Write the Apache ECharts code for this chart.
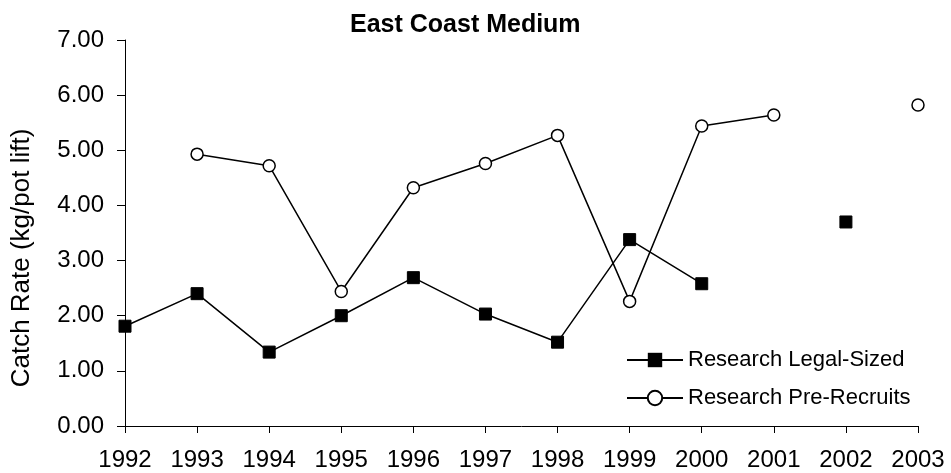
<!DOCTYPE html>
<html>
<head>
<meta charset="utf-8">
<script src="https://cdn.jsdelivr.net/npm/echarts@6/dist/echarts.min.js"></script>
<style>
html,body{margin:0;padding:0;background:#fff;}
#chart{width:951px;height:473px;}
</style>
</head>
<body>
<div id="chart"></div>
<script>
var years = [1992,1993,1994,1995,1996,1997,1998,1999,2000,2001,2002,2003];
var legalSized = [1.81,2.40,1.34,2.00,2.69,2.03,1.52,3.38,2.58,null,3.70,null];
var preRecruits = [null,4.93,4.72,2.44,4.32,4.76,5.27,2.26,5.44,5.64,null,5.82];
var yTicks = [0,1,2,3,4,5,6,7];

function pairs(vals){ return years.map(function(y,i){ return [y, vals[i]]; }); }

var FONT = '"Liberation Sans", Arial, sans-serif';
var chart = echarts.init(document.getElementById('chart'), null, {renderer:'canvas'});
chart.setOption({
  animation:false,
  backgroundColor:'#fff',
  title:{
    text:'East Coast Medium',
    left:345, top:8,
    textStyle:{fontFamily:FONT, fontWeight:'bold', fontSize:25, color:'#000'}
  },
  legend:{
    orient:'vertical', left:621, top:344,
    itemWidth:56, itemHeight:18, itemGap:16,
    textStyle:{fontFamily:FONT, fontSize:22, color:'#000'},
    data:['Research Legal-Sized','Research Pre-Recruits']
  },
  grid:{left:125, right:33, top:40, bottom:47},
  xAxis:{
    type:'value', min:years[0], max:years[years.length-1], interval:1,
    axisLine:{lineStyle:{color:'#000', width:1}},
    axisTick:{show:true, length:7, lineStyle:{color:'#000'}},
    splitLine:{show:false},
    axisLabel:{fontFamily:FONT, fontSize:24, color:'#000', margin:22,
      formatter:function(v){return String(v);}}
  },
  yAxis:{
    type:'value', min:yTicks[0], max:yTicks[yTicks.length-1], interval:1,
    name:'Catch Rate (kg/pot lift)', nameLocation:'middle', nameGap:90, nameRotate:90,
    nameTextStyle:{fontFamily:FONT, fontSize:26, color:'#000', padding:[0,50,0,0]},
    axisLine:{show:true, lineStyle:{color:'#000', width:1}},
    axisTick:{show:true, length:8, lineStyle:{color:'#000'}},
    splitLine:{show:false},
    axisLabel:{fontFamily:FONT, fontSize:24, color:'#000', margin:21,
      formatter:function(v){return v.toFixed(2);}}
  },
  series:[
    {
      name:'Research Legal-Sized', type:'line', data:pairs(legalSized),
      symbol:'rect', symbolSize:12, showAllSymbol:true, connectNulls:false,
      lineStyle:{color:'#000', width:1.5},
      itemStyle:{color:'#000', borderColor:'#000'}
    },
    {
      name:'Research Pre-Recruits', type:'line', data:pairs(preRecruits),
      symbol:'circle', symbolSize:12, showAllSymbol:true, connectNulls:false,
      lineStyle:{color:'#000', width:1.5},
      itemStyle:{color:'#fff', borderColor:'#000', borderWidth:1.5}
    }
  ]
});
</script>
</body>
</html>
